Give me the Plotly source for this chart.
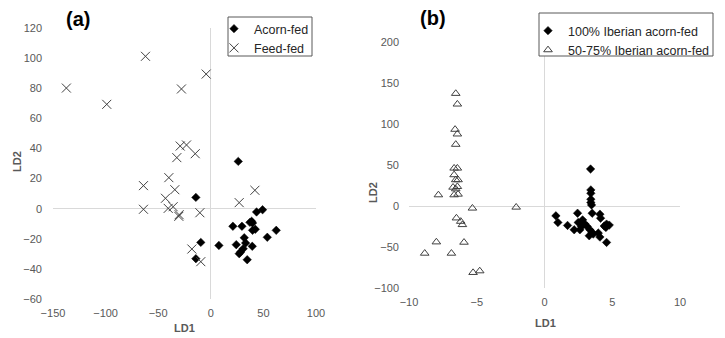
import plotly.graph_objects as go

# ---------------- Panel (a) data ----------------
acorn_a_x = [26.1, -14.2, 43.5, 49.2, 37.2, 38.8, 39.7, 21.0, 29.6, 39.7, 42.3, 62.2,
             53.7, 31.8, 33.1, 24.2, 7.7, 39.4, 30.8, 28.3, 27.0, 34.6, -9.5, -14.2]
acorn_a_y = [31.4, 7.5, -2.2, -0.7, -9.1, -8.4, -9.5, -11.7, -11.7, -14.4, -13.7, -14.4,
             -19.0, -19.3, -22.8, -23.9, -24.4, -25.0, -26.6, -28.8, -29.9, -33.9, -22.4, -33.2]

feed_a_x = [-137.3, -62.1, -98.9, -4.4, -27.9, -29.1, -23.1, -14.8, -32.3, -39.9, -64.0, -34.2,
            -43.1, -64.0, -40.5, -35.8, -30.4, -30.1, -10.4, 27.0, 41.9, -18.0, -9.5]
feed_a_y = [80.1, 101.2, 69.3, 89.4, 79.5, 41.6, 42.3, 36.5, 33.9, 20.6, 15.3, 12.6,
            6.9, -0.4, 0.2, 1.3, -5.1, -4.0, -2.7, 4.0, 12.2, -26.8, -35.2]

# ---------------- Panel (b) data ----------------
full_b_x = [3.40, 3.42, 3.42, 3.42, 3.42, 3.47, 3.52, 2.44, 4.09, 4.14, 0.84, 0.99, 1.70,
            2.19, 2.61, 2.49, 2.81, 2.98, 3.15, 2.73, 3.35, 3.52, 3.30, 3.60, 3.97, 4.09,
            4.58, 4.58, 4.78, 4.53, 4.41, 2.86]
full_b_y = [45.1, 19.6, 15.5, 8.2, 4.2, 1.3, -8.8, -8.8, -10.0, -14.9, -12.0, -20.1, -23.7,
            -29.0, -29.0, -20.1, -16.9, -21.8, -25.0, -25.0, -29.0, -32.3, -36.3, -34.2, -33.0,
            -37.9, -44.4, -22.1, -23.3, -26.1, -24.4, -21.8]

half_b_x = [-6.55, -6.43, -6.60, -6.43, -6.55, -6.67, -6.43, -6.67, -6.55, -6.38, -6.75,
            -6.43, -6.55, -6.67, -6.38, -7.83, -5.32, -2.09, -6.50, -6.18, -6.06, -7.98,
            -5.94, -8.84, -6.87, -5.27, -4.78]
half_b_y = [137.2, 124.2, 93.4, 87.7, 75.1, 46.1, 46.1, 38.0, 31.9, 31.9, 22.8, 23.6, 20.8,
            13.5, 14.3, 13.5, -2.7, -1.5, -14.7, -18.8, -22.8, -43.9, -44.3, -57.7, -57.7,
            -81.2, -79.2]

# tick settings
a_x_ticks = [-150, -100, -50, 0, 50, 100]
a_y_ticks = [-60, -40, -20, 0, 20, 40, 60, 80, 100, 120]
b_x_ticks = [-10, -5, 0, 5, 10]
b_y_ticks = [-100, -50, 0, 50, 100, 150, 200]

# the page body adds an 8px margin around the plot div
OFF = 8
W, H = 725 - OFF, 338 - OFF
FONT = "Liberation Sans, Arial, sans-serif"
TICK_COLOR = "#595959"
ZERO_COLOR = "#d9d9d9"
MARK_GRAY = "#404040"

fig = go.Figure()

fig.add_trace(go.Scatter(
    x=acorn_a_x, y=acorn_a_y, mode="markers", name="Acorn-fed",
    marker=dict(symbol="diamond", size=6.5, color="black", line=dict(width=0.5, color="black")),
    xaxis="x", yaxis="y", legend="legend"))
fig.add_trace(go.Scatter(
    x=feed_a_x, y=feed_a_y, mode="markers", name="Feed-fed",
    marker=dict(symbol="x-thin", size=9, color=MARK_GRAY, line=dict(width=1, color=MARK_GRAY)),
    xaxis="x", yaxis="y", legend="legend"))

fig.add_trace(go.Scatter(
    x=full_b_x, y=full_b_y, mode="markers", name="100% Iberian acorn-fed",
    marker=dict(symbol="diamond", size=6.5, color="black", line=dict(width=0.5, color="black")),
    xaxis="x2", yaxis="y2", legend="legend2"))
fig.add_trace(go.Scatter(
    x=half_b_x, y=half_b_y, mode="markers", name="50-75% Iberian acorn-fed",
    marker=dict(symbol="triangle-up-open", size=7.5, color=MARK_GRAY, line=dict(width=1, color=MARK_GRAY)),
    xaxis="x2", yaxis="y2", legend="legend2"))

def px_x(p):
    return (p - OFF) / W

def px_y(p):
    return 1 - (p - OFF) / H

axis_common = dict(showgrid=False, zeroline=True, zerolinecolor=ZERO_COLOR, zerolinewidth=1,
                   showline=False, ticks="", automargin=False,
                   tickfont=dict(family=FONT, size=11, color=TICK_COLOR),
                   color=TICK_COLOR, fixedrange=True)

fig.update_layout(
    template="none",
    width=W, height=H,
    margin=dict(l=0, r=0, t=0, b=0, pad=0),
    paper_bgcolor="white", plot_bgcolor="white",
    font=dict(family=FONT, color=TICK_COLOR),
    xaxis=dict(domain=[px_x(53), px_x(316)], range=[-150, 100], tickvals=a_x_ticks,
               anchor="y", ticklabelstandoff=6, **axis_common),
    yaxis=dict(domain=[px_y(299), px_y(28)], range=[-60, 120], tickvals=a_y_ticks,
               anchor="x", ticklabelstandoff=10, **axis_common),
    xaxis2=dict(domain=[px_x(409), px_x(680)], range=[-10, 10], tickvals=b_x_ticks,
                anchor="y2", ticklabelstandoff=6, **axis_common),
    yaxis2=dict(domain=[px_y(288), px_y(42)], range=[-100, 200], tickvals=b_y_ticks,
                anchor="x2", ticklabelstandoff=9, **axis_common),
    legend=dict(x=px_x(214), y=px_y(14), xanchor="left", yanchor="top",
                bgcolor="rgba(0,0,0,0)", borderwidth=0, tracegroupgap=0,
                font=dict(family=FONT, size=12.5, color="#262626"), itemwidth=30),
    legend2=dict(x=px_x(528), y=px_y(16), xanchor="left", yanchor="top",
                 bgcolor="rgba(0,0,0,0)", borderwidth=0, tracegroupgap=0,
                 font=dict(family=FONT, size=12.5, color="#262626"), itemwidth=30),
    showlegend=True,
)

# legend boxes (white fill, border)
fig.add_shape(type="rect", xref="paper", yref="paper", x0=px_x(228), x1=px_x(312),
              y0=px_y(56), y1=px_y(17), fillcolor="white", line=dict(color="#595959", width=1),
              layer="above")
fig.add_shape(type="rect", xref="paper", yref="paper", x0=px_x(539), x1=px_x(713),
              y0=px_y(56), y1=px_y(13), fillcolor="white", line=dict(color="#595959", width=1),
              layer="above")

ann = []
ann.append(dict(text="<b>(a)</b>", x=px_x(78), y=px_y(18.5), xref="paper", yref="paper",
                showarrow=False, font=dict(family=FONT, size=20, color="black"),
                xanchor="center", yanchor="middle"))
ann.append(dict(text="<b>(b)</b>", x=px_x(433), y=px_y(18), xref="paper", yref="paper",
                showarrow=False, font=dict(family=FONT, size=20, color="black"),
                xanchor="center", yanchor="middle"))
ann.append(dict(text="<b>LD1</b>", x=px_x(184), y=px_y(328), xref="paper", yref="paper",
                showarrow=False, font=dict(family=FONT, size=11, color=TICK_COLOR),
                xanchor="center", yanchor="middle"))
ann.append(dict(text="<b>LD2</b>", x=px_x(17), y=px_y(162), xref="paper", yref="paper",
                showarrow=False, textangle=-90, font=dict(family=FONT, size=11, color=TICK_COLOR),
                xanchor="center", yanchor="middle"))
ann.append(dict(text="<b>LD1</b>", x=px_x(545), y=px_y(323), xref="paper", yref="paper",
                showarrow=False, font=dict(family=FONT, size=11, color=TICK_COLOR),
                xanchor="center", yanchor="middle"))
ann.append(dict(text="<b>LD2</b>", x=px_x(373), y=px_y(193), xref="paper", yref="paper",
                showarrow=False, textangle=-90, font=dict(family=FONT, size=11, color=TICK_COLOR),
                xanchor="center", yanchor="middle"))
fig.update_layout(annotations=ann)

fig.write_html("out.html")
